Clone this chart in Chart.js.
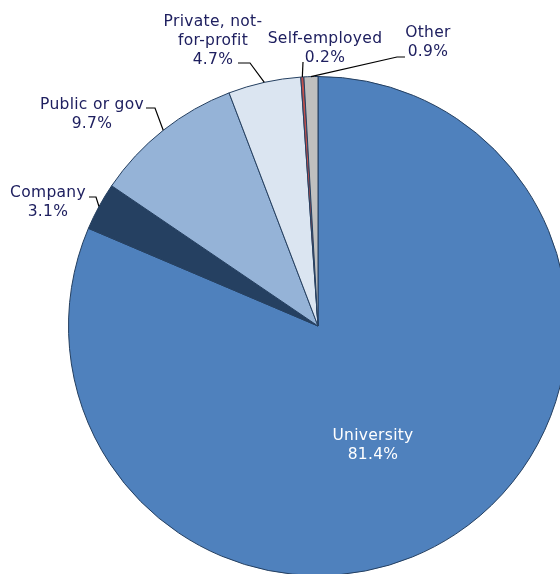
<!DOCTYPE html>
<html>
<head>
<meta charset="utf-8">
<script src="https://cdn.jsdelivr.net/npm/chart.js@4.4.0/dist/chart.umd.min.js"></script>
<style>
  html, body { margin: 0; padding: 0; background: #fff; overflow: hidden; }
  #wrap { width: 560px; height: 574px; overflow: hidden; position: relative; }
</style>
</head>
<body>
<div id="wrap"><canvas id="myChart" width="636" height="652"></canvas></div>
<script>
var categories = ['University', 'Company', 'Public or gov', 'Private, not-for-profit', 'Self-employed', 'Other'];
var shares = [81.4, 3.1, 9.7, 4.7, 0.2, 0.9];
var labelLines = [
    ['University', '81.4%'],
    ['Company', '3.1%'],
    ['Public or gov', '9.7%'],
    ['Private, not-', 'for-profit', '4.7%'],
    ['Self-employed', '0.2%'],
    ['Other', '0.9%']
];
var colors = ['#4f81bd', '#254061', '#95b3d7', '#dbe5f1', '#c0504d', '#bfbfbf'];

// where each label sits (x, y of first line) and the elbow of its leader line
var labelLayout = [
    { x: 373, y: 436, color: '#ffffff' },
    { x: 48, y: 193, elbow: [96, 197], tail: [89, 197] },
    { x: 92, y: 105, elbow: [155, 108], tail: [146, 108] },
    { x: 213, y: 22, elbow: [250, 63], tail: [238, 63] },
    { x: 325, y: 39, elbow: [303, 62] },
    { x: 428, y: 33, elbow: [397, 57], tail: [405, 57] }
];

var pieLabels = {
    id: 'pieLabels',
    afterDraw: function(chart) {
        var c = chart.ctx;
        var arcs = chart.getDatasetMeta(0).data;
        c.save();
        c.font = '15.5px "DejaVu Sans", Verdana, sans-serif';
        c.letterSpacing = '0.3px';
        c.textAlign = 'center';
        c.textBaseline = 'middle';
        arcs.forEach(function(arc, i) {
            var lay = labelLayout[i];
            if (lay.elbow) {
                var mid = (arc.startAngle + arc.endAngle) / 2;
                var ex = arc.x + Math.cos(mid) * arc.outerRadius;
                var ey = arc.y + Math.sin(mid) * arc.outerRadius;
                c.beginPath();
                c.strokeStyle = '#000000';
                c.lineWidth = 1.2;
                c.moveTo(ex, ey);
                c.lineTo(lay.elbow[0], lay.elbow[1]);
                if (lay.tail) c.lineTo(lay.tail[0], lay.tail[1]);
                c.stroke();
            }
            c.fillStyle = lay.color || '#1f2060';
            labelLines[i].forEach(function(t, k) {
                c.fillText(t, lay.x, lay.y + k * 19);
            });
        });
        c.restore();
    }
};

var ctx = document.getElementById('myChart').getContext('2d');
var chart = new Chart(ctx, {
    type: 'pie',
    data: {
        labels: categories,
        datasets: [{
            data: shares,
            backgroundColor: colors,
            borderColor: '#243f60',
            borderWidth: 1
        }]
    },
    options: {
        responsive: false,
        animation: false,
        layout: { padding: 68 },
        plugins: {
            legend: { display: false },
            tooltip: { enabled: false }
        }
    },
    plugins: [pieLabels]
});
</script>
</body>
</html>
